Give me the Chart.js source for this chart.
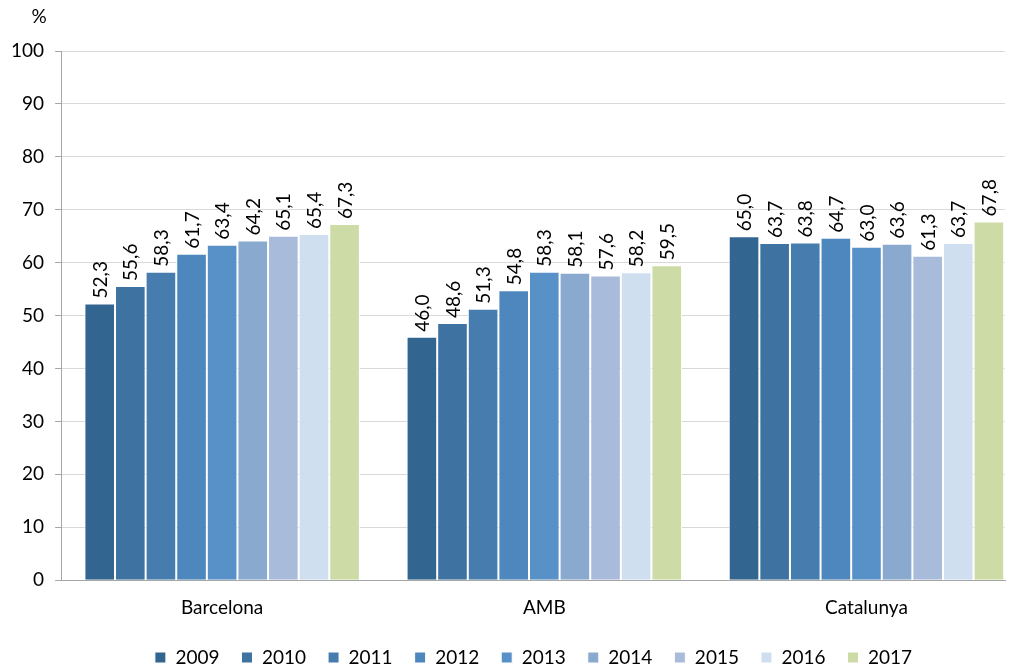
<!DOCTYPE html>
<html><head><meta charset="utf-8">
<script src="https://cdn.jsdelivr.net/npm/chart.js@4/dist/chart.umd.min.js"></script>
<style>html,body{margin:0;padding:0;background:#fff}#wrap{width:1019px;height:670px}</style>
</head><body><div id="wrap"><canvas id="c" width="1019" height="670"></canvas></div>
<script>
const categories = ["Barcelona", "AMB", "Catalunya"];
const years = ["2009","2010","2011","2012","2013","2014","2015","2016","2017"];
const v2009 = [52.3, 46.0, 65.0];
const v2010 = [55.6, 48.6, 63.7];
const v2011 = [58.3, 51.3, 63.8];
const v2012 = [61.7, 54.8, 64.7];
const v2013 = [63.4, 58.3, 63.0];
const v2014 = [64.2, 58.1, 63.6];
const v2015 = [65.1, 57.6, 61.3];
const v2016 = [65.4, 58.2, 63.7];
const v2017 = [67.3, 59.5, 67.8];
const yTicks = [0,10,20,30,40,50,60,70,80,90,100];
const colors = ["#336591","#3e72a0","#467dae","#4e87bd","#5891c8","#8aa9cf","#a9bbdb","#cfdff0","#cddca6"];
const series = [v2009,v2010,v2011,v2012,v2013,v2014,v2015,v2016,v2017];
const FONT = "Lato, 'Open Sans', sans-serif";

const labelPlugin = {
  id: 'labels',
  afterLayout(chart) {
    if (chart.legend) { chart.legend.left += 31; chart.legend.right += 31; }
    const x = chart.scales.x;
    // plot area is cropped on the right in the original: last category runs to the edge
    x._valueRange = categories.length - 0.07;
  },
  afterDatasetsDraw(chart) {
    const ctx = chart.ctx;
    ctx.save();
    ctx.font = "19px " + FONT;
    ctx.fillStyle = "#000";
    ctx.textAlign = "left";
    ctx.textBaseline = "middle";
    chart.data.datasets.forEach((ds, i) => {
      const meta = chart.getDatasetMeta(i);
      meta.data.forEach((bar, j) => {
        const txt = ds.data[j].toFixed(1).replace('.', ',');
        ctx.save();
        ctx.translate(bar.x + 1, bar.y - 5);
        ctx.rotate(-Math.PI / 2);
        ctx.fillText(txt, 0, 0);
        ctx.restore();
      });
    });
    ctx.textAlign = "center";
    ctx.fillText("%", 39, 17);
    ctx.restore();
  }
};

new Chart(document.getElementById('c'), {
  type: 'bar',
  data: {
    labels: categories,
    datasets: years.map((y, i) => ({
      label: y,
      data: series[i],
      backgroundColor: colors[i],
      borderColor: "#ffffff",
      borderWidth: 1,
      barPercentage: 1,
      categoryPercentage: 0.855
    }))
  },
  options: {
    responsive: false,
    animation: false,
    layout: { padding: { left: 0, right: 14, top: 51, bottom: -7 } },
    plugins: {
      legend: {
        position: 'bottom',
        labels: { font: { family: FONT, size: 19 }, color: "#000", boxWidth: 11, boxHeight: 11, padding: 22 }
      },
      tooltip: { enabled: false }
    },
    scales: {
      x: {
        grid: { display: false, drawTicks: false },
        border: { display: true, color: "#a6a6a6", width: 1 },
        ticks: { font: { family: FONT, size: 19 }, color: "#000", padding: 16 },
        afterFit(scale) { scale.height -= 9; }
      },
      y: {
        min: 0, max: 100,
        afterBuildTicks(axis) { axis.ticks = yTicks.map(v => ({ value: v })); },
        grid: { color: "#d9d9d9", tickColor: "#a6a6a6", tickLength: 6 },
        border: { display: true, color: "#a6a6a6", width: 1 },
        ticks: { font: { family: FONT, size: 19 }, color: "#000", padding: 11 }
      }
    }
  },
  plugins: [labelPlugin]
});
</script></body></html>
